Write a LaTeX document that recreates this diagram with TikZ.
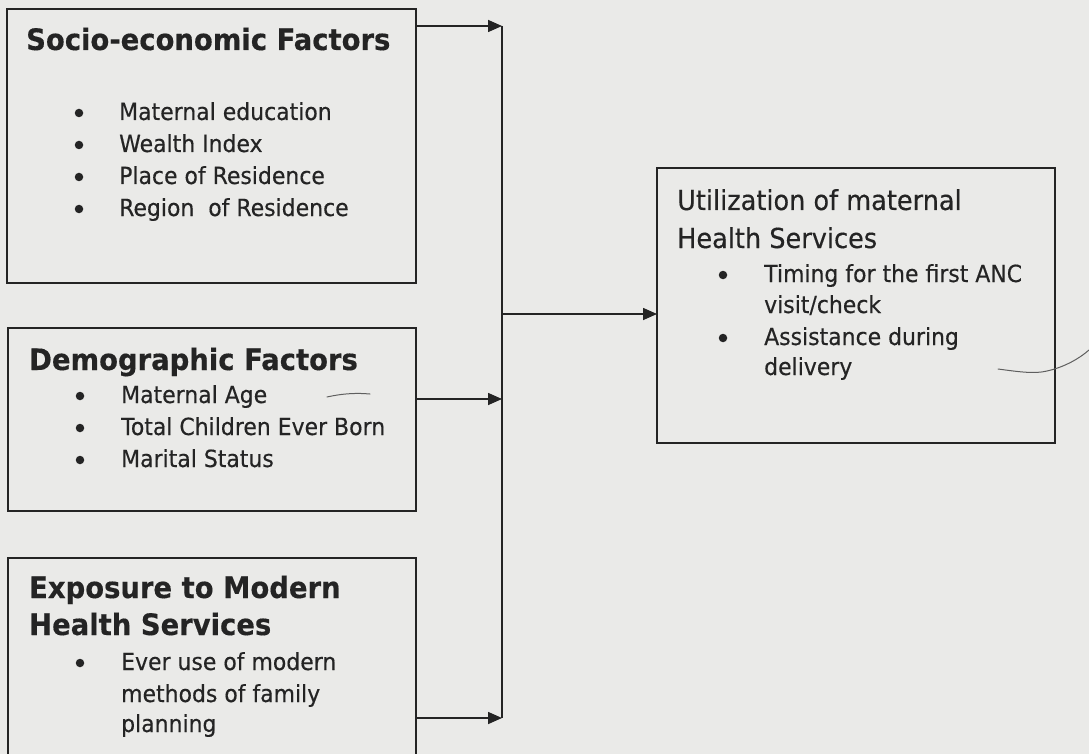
\documentclass[tikz,border=0pt]{standalone}
\usepackage{fontspec}
\setmainfont{DejaVu Sans}[FakeStretch=0.93,FakeBold=0.35]
\usetikzlibrary{arrows.meta}
\definecolor{paper}{RGB}{234,234,232}
\definecolor{ink}{RGB}{36,36,36}
\definecolor{pen}{RGB}{95,95,95}

\begin{document}
\begin{tikzpicture}[x=1pt,y=-1pt,
  box/.style={draw=ink, line width=1.6pt, inner sep=0pt, outer sep=0pt, anchor=north west},
  head/.style={anchor=base west, inner sep=0pt, text=ink, font=\fontsize{29.5}{36}\selectfont\bfseries},
  subhead/.style={anchor=base west, inner sep=0pt, text=ink, font=\fontsize{27.5}{36}\selectfont},
  item/.style={anchor=base west, inner sep=0pt, text=ink, font=\fontsize{23.6}{31}\selectfont},
  bul/.style={circle, fill=ink, inner sep=0pt, minimum size=8.5pt},
  link/.style={draw=ink, line width=1.6pt},
  feed/.style={link, -{Triangle[length=14pt,width=12pt]}},
  penmark/.style={draw=pen, line width=1pt, line cap=round},
]
\useasboundingbox (0,0) rectangle (1089,754);
\clip (0,0) rectangle (1089,754);
\fill[paper] (0,0) rectangle (1089,754);

% frames
\node[box, minimum width=409pt, minimum height=274pt] (socio) at (7,9) {};
\node[box, minimum width=408pt, minimum height=183pt] (demo) at (8,328) {};
\node[box, minimum width=408pt, minimum height=250pt] (expo) at (8,558) {};
\node[box, minimum width=398pt, minimum height=275pt] (util) at (657,168) {};

% socio-economic factors
\node[head] (socioT) at (26,50) {Socio-economic Factors};
\node[bul] (sb1) at (79,113) {}; \node[item] (s1) at (119,120) {Maternal education};
\node[bul] (sb2) at (79,145) {}; \node[item] (s2) at (119,152) {Wealth Index};
\node[bul] (sb3) at (79,177) {}; \node[item] (s3) at (119,184) {Place of Residence};
\node[bul] (sb4) at (79,209) {}; \node[item] (s4) at (119,216) {Region\ \ of Residence};

% demographic factors
\node[head] (demoT) at (29,370) {Demographic Factors};
\node[bul] (db1) at (80,396) {}; \node[item] (d1) at (121,403) {Maternal Age};
\node[bul] (db2) at (80,428) {}; \node[item] (d2) at (121,435) {Total Children Ever Born};
\node[bul] (db3) at (80,460) {}; \node[item] (d3) at (121,467) {Marital Status};

% exposure to modern health services
\node[head] (expoT1) at (29,598) {Exposure to Modern};
\node[head] (expoT2) at (29,635) {Health Services};
\node[bul] (eb1) at (80,663) {}; \node[item] (e1) at (121,670) {Ever use of modern};
\node[item] (e2) at (121,702) {methods of family};
\node[item] (e3) at (121,732) {planning};

% outcome
\node[subhead] (utilT1) at (677,210) {Utilization of maternal};
\node[subhead] (utilT2) at (677,248) {Health Services};
\node[bul] (ub1) at (723,275) {}; \node[item] (u1) at (764,282) {Timing for the first ANC};
\node[item] (u2) at (764,313) {visit/check};
\node[bul] (ub2) at (723,338) {}; \node[item] (u3) at (764,345) {Assistance during};
\node[item] (u4) at (764,375) {delivery};

% connectors
\coordinate (jt) at (502,26);
\coordinate (jd) at (502,399);
\coordinate (je) at (502,718);
\coordinate (jm) at (502,314);
\draw[feed] (socio.east |- jt) -- (jt);
\draw[feed] (demo.east |- jd) -- (jd);
\draw[feed] (expo.east |- je) -- (je);
\draw[link] (jt) -- (je);
\draw[feed] (jm) -- (util.west |- jm);

% pen strokes
\draw[penmark] (327,397) .. controls (345,393) and (358,393) .. (370,394);
\draw[penmark] (998,369) .. controls (1020,372) and (1035,374) .. (1047,371) .. controls (1065,367) and (1080,358) .. (1089,350);
\end{tikzpicture}
\end{document}
